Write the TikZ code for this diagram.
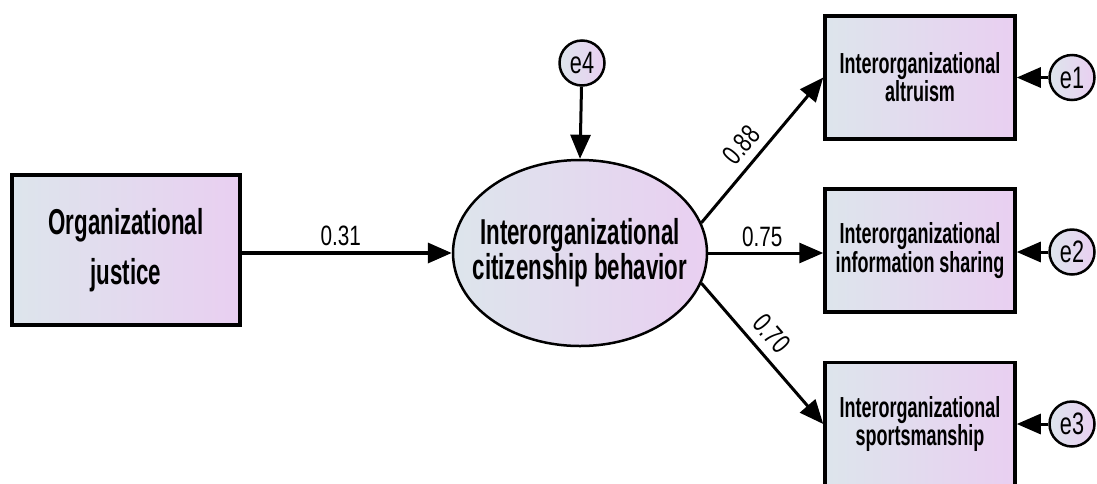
\documentclass[tikz,border=0pt]{standalone}
\usepackage{fontspec}
\setmainfont{Liberation Sans}
\newfontfamily\boxfont{Liberation Sans}[FakeStretch=0.62]
\newfontfamily\numfont{Liberation Sans}[FakeStretch=0.74]
\newfontfamily\errfont{Liberation Sans}[FakeStretch=0.7]
\usetikzlibrary{arrows.meta,shapes.geometric}
\definecolor{fillL}{RGB}{221,229,236}
\definecolor{fillR}{RGB}{233,207,241}
\tikzset{
  varbox/.style={draw=black, line width=3.5pt, rectangle, left color=fillL, right color=fillR,
    minimum width=190pt, minimum height=123pt, inner sep=0pt, align=center,
    font=\boxfont\bfseries\fontsize{29}{25}\selectfont},
  latent/.style={draw=black, line width=2.5pt, ellipse, left color=fillL, right color=fillR,
    minimum width=254pt, minimum height=186pt, inner sep=0pt},
  errnode/.style={draw=black, line width=2.5pt, circle, left color=fillL, right color=fillR,
    minimum size=45pt, inner sep=0pt, font=\errfont\fontsize{31}{32}\selectfont},
  path/.style={line width=3pt, -{Triangle[length=24pt,width=20pt]}},
  coef/.style={font=\numfont\fontsize{28}{30}\selectfont, inner sep=5pt}
}
\begin{document}
\begin{tikzpicture}[x=1pt,y=-1pt]
  \useasboundingbox (0,0) rectangle (1097,483);
  \clip (0,0) rectangle (1097,483);
  % exogenous variable
  \node[varbox, minimum width=228pt, minimum height=150pt,
        font=\boxfont\bfseries\fontsize{36}{50}\selectfont] (oj) at (126,250)
        {Organizational\\justice};
  % latent construct
  \node[latent] (icb) at (580,253) {};
  \node[font=\boxfont\bfseries\fontsize{36}{33}\selectfont, align=center] (icbtext) at (icb)
        {Interorganizational\\citizenship behavior};
  % indicators
  \node[varbox] (alt) at (920,77.5) {Interorganizational\\altruism};
  \node[varbox] (info) at (920,250.5) {Interorganizational\\information sharing};
  \node[varbox] (sport) at (920,424) {Interorganizational\\sportsmanship};
  % error terms
  \node[errnode] (e4) at (582,63) {e4};
  \node[errnode] (e1) at (1072,77.5) {e1};
  \node[errnode] (e2) at (1072,252) {e2};
  \node[errnode] (e3) at (1072,424) {e3};
  % structural paths
  \draw[path, line width=3.5pt] (oj.east |- icb.west) -- (icb.west)
        node[coef, midway, above, xshift=-6pt] {0.31};
  \draw[path] (icb.14) -- (alt.west)
        node[coef, pos=0.45, sloped, above, inner sep=8pt] {0.88};
  \draw[path] (icb.east) -- (info.west |- icb.east)
        node[coef, pos=0.47, above] {0.75};
  \draw[path] (icb.-14) -- (sport.west)
        node[coef, pos=0.45, sloped, above, inner sep=9pt] {0.70};
  % error paths
  \draw[path] (e4) -- (icb.north);
  \draw[path] (e1) -- (alt.east);
  \draw[path] (e2) -- (info.east |- e2.west);
  \draw[path] (e3) -- (sport.east);
\end{tikzpicture}
\end{document}
